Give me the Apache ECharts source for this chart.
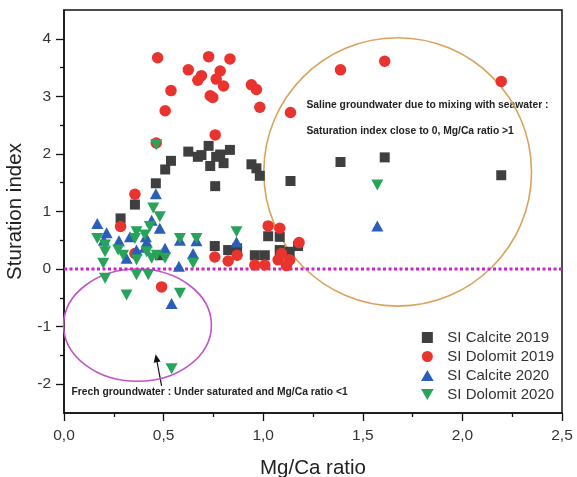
<!DOCTYPE html>
<html>
<head>
<meta charset="utf-8">
<script src="https://cdn.jsdelivr.net/npm/echarts@6/dist/echarts.min.js"></script>
<style>
html,body{margin:0;padding:0;background:#fff;}
#c{width:577px;height:477px;}
</style>
</head>
<body>
<div id="c"></div>
<script>
// ---- data (Mg/Ca ratio, saturation index) ----
const calcite2019 = [
  [0.461,1.49],[0.508,1.73],[0.537,1.88],[0.624,2.04],[0.672,1.95],[0.69,1.98],[0.726,2.14],
  [0.734,1.79],[0.764,1.95],[0.784,1.99],[0.801,1.84],[0.833,2.07],[0.759,1.44],[0.941,1.82],
  [0.966,1.75],[0.983,1.62],[1.137,1.53],[1.388,1.86],[1.61,1.94],[2.195,1.63],[0.356,1.12],
  [0.284,0.88],[0.481,0.24],[0.757,0.40],[0.824,0.33],[0.869,0.36],[0.958,0.24],[1.008,0.24],
  [1.025,0.57],[1.083,0.56],[1.083,0.33],[1.133,0.30],[1.175,0.40]
];
const dolomit2019 = [
  [0.47,3.67],[0.726,3.69],[0.833,3.65],[0.624,3.46],[0.784,3.44],[0.69,3.36],[0.672,3.28],
  [0.764,3.30],[0.801,3.18],[0.537,3.10],[0.734,3.01],[0.747,2.98],[0.941,3.20],[0.966,3.12],
  [0.983,2.81],[1.137,2.72],[0.508,2.75],[0.759,2.33],[0.463,2.19],[0.356,1.30],[0.284,0.74],
  [0.356,0.27],[0.49,-0.31],[1.388,3.46],[1.61,3.61],[2.195,3.26],[0.757,0.21],[0.824,0.14],
  [0.869,0.24],[0.958,0.07],[1.008,0.07],[1.025,0.75],[1.083,0.71],[1.075,0.16],[1.092,0.27],
  [1.133,0.16],[1.117,0.06],[1.18,0.46]
];
const calcite2020 = [
  [0.167,0.79],[0.214,0.63],[0.2,0.50],[0.276,0.49],[0.331,0.56],[0.364,0.33],[0.415,0.47],
  [0.44,0.85],[0.461,1.31],[0.481,0.71],[0.507,0.36],[0.582,0.50],[0.648,0.27],[0.665,0.49],
  [0.577,0.05],[0.406,0.38],[0.314,0.19],[0.54,-0.60],[0.866,0.47],[1.573,0.75],[0.411,0.56]
];
const dolomit2020 = [
  [0.167,0.53],[0.206,0.42],[0.206,0.30],[0.197,0.10],[0.272,0.33],[0.206,-0.16],[0.364,0.65],
  [0.356,0.53],[0.364,0.16],[0.364,-0.10],[0.423,-0.10],[0.431,0.74],[0.448,1.06],[0.481,0.91],
  [0.415,0.30],[0.44,0.19],[0.465,0.24],[0.507,0.19],[0.582,0.53],[0.665,0.53],[0.648,0.10],
  [0.406,0.59],[0.297,0.24],[0.314,-0.45],[0.582,-0.42],[0.54,-1.73],[0.463,2.16],[1.573,1.46],
  [0.866,0.65]
];
const zeroLine = [[0,0],[2.5,0]];
const seriesNames = ['SI Calcite 2019','SI Dolomit 2019','SI Calcite 2020','SI Dolomit 2020'];
const yMajorTicks = [-2,-1,0,1,2,3,4];
const yMinorTicks = [-1.5,-0.5,0.5,1.5,2.5,3.5];
const xTickLabels = ['0,0','0,5','1,0','1,5','2,0','2,5'];
const salineText = ['Saline groundwater due to mixing with seawater :','Saturation index close to 0, Mg/Ca ratio >1'];
const freshText = 'Frech groundwater : Under saturated and Mg/Ca ratio <1';

const FONT = '"Liberation Sans", Arial, Helvetica, sans-serif';
const sqIcon = 'path://M0,0H1V1H0Z';
const upIcon = 'path://M1,0L2,1.732L0,1.732Z';
const downIcon = 'path://M0,0L2,0L1,1.732Z';

const chart = echarts.init(document.getElementById('c'), null, {renderer:'canvas'});
chart.setOption({
  animation:false,
  backgroundColor:'#fff',
  grid:{left:64,right:15,top:10,bottom:64,outerBoundsMode:'none',containLabel:false,
    show:true,borderColor:'#111',borderWidth:1.5,backgroundColor:'transparent'},
  xAxis:{
    type:'value',min:0,max:2.5,interval:0.5,
    name:'Mg/Ca ratio',nameLocation:'middle',nameGap:45,
    nameTextStyle:{fontSize:20.5,color:'#222',fontFamily:FONT},
    axisLine:{show:true,onZero:false,lineStyle:{color:'#111',width:1.5}},
    axisTick:{show:true,inside:false,length:8,lineStyle:{color:'#111',width:1.3}},
    minorTick:{show:true,splitNumber:2,length:4,lineStyle:{color:'#111',width:1.3}},
    splitLine:{show:false},
    axisLabel:{margin:15,fontSize:15.5,color:'#333',fontFamily:FONT,
      formatter:function(v){return xTickLabels[Math.round(v/0.5)];}}
  },
  yAxis:[{
    type:'value',min:-2.5,max:4.5,position:'left',
    name:'Sturation index',nameLocation:'middle',nameGap:37,
    nameTextStyle:{fontSize:20.5,color:'#222',fontFamily:FONT},
    axisLine:{show:true,onZero:false,lineStyle:{color:'#111',width:1.5}},
    axisTick:{show:true,inside:false,length:8,customValues:yMajorTicks,lineStyle:{color:'#111',width:1.3}},
    splitLine:{show:false},
    axisLabel:{margin:13,fontSize:15.5,color:'#333',fontFamily:FONT,customValues:yMajorTicks,
      formatter:function(v){return String(v);}}
  },{
    type:'value',min:-2.5,max:4.5,position:'left',offset:0,
    axisLine:{show:false,onZero:false},
    axisTick:{show:true,inside:false,length:4,customValues:yMinorTicks,lineStyle:{color:'#111',width:1.3}},
    axisLabel:{show:false,customValues:yMinorTicks},
    splitLine:{show:false}
  }],
  legend:{
    orient:'vertical',left:416,top:325,itemWidth:30,itemHeight:11,itemGap:4,
    textStyle:{fontSize:15,color:'#333',fontFamily:FONT},
    data:[
      {name:seriesNames[0],icon:sqIcon},
      {name:seriesNames[1],icon:'circle'},
      {name:seriesNames[2],icon:upIcon},
      {name:seriesNames[3],icon:downIcon}
    ]
  },
  series:[
    {name:'zero',type:'line',data:zeroLine,showSymbol:false,symbol:'none',silent:true,z:1,
     lineStyle:{color:'#cc22cc',width:3,type:[3,2.5],cap:'butt'}},
    {name:seriesNames[0],type:'scatter',data:calcite2019,symbol:'rect',symbolSize:10,
     itemStyle:{color:'#3f3f3f',opacity:1}},
    {name:seriesNames[1],type:'scatter',data:dolomit2019,symbol:'circle',symbolSize:11.5,
     itemStyle:{color:'#e8332e',opacity:1}},
    {name:seriesNames[2],type:'scatter',data:calcite2020,symbol:upIcon,symbolSize:[12,11],
     itemStyle:{color:'#2b5eb8',opacity:1}},
    {name:seriesNames[3],type:'scatter',data:dolomit2020,symbol:downIcon,symbolSize:[12,11],
     itemStyle:{color:'#27a35a',opacity:1}}
  ]
});

// ---- annotations positioned through the chart's own coordinate system ----
function P(x,y){return chart.convertToPixel({gridIndex:0},[x,y]);}
function sx(d){return P(d,0)[0]-P(0,0)[0];}
function sy(d){return P(0,0)[1]-P(0,d)[1];}
const oc = P(1.675,1.687), mc = P(0.369,-0.974);
const tail = P(0.49,-2.03), tip = P(0.46,-1.48);
const dx = tip[0]-tail[0], dy = tip[1]-tail[1], L = Math.sqrt(dx*dx+dy*dy);
const ux = dx/L, uy = dy/L, hl = 8, hw = 3.5;
const hb = [tip[0]-ux*hl, tip[1]-uy*hl];
const t1 = P(1.217,2.84), t2 = P(1.217,2.39), t3 = P(0.038,-2.13);
chart.setOption({graphic:[
  {type:'ellipse',silent:true,z:1,shape:{cx:oc[0],cy:oc[1],rx:sx(0.672),ry:sy(2.33)},
   style:{fill:null,stroke:'#d9a35c',lineWidth:1.6}},
  {type:'ellipse',silent:true,z:1,shape:{cx:mc[0],cy:mc[1],rx:sx(0.371),ry:sy(0.974)},
   style:{fill:null,stroke:'#c255c8',lineWidth:1.6}},
  {type:'line',silent:true,shape:{x1:tail[0],y1:tail[1],x2:hb[0],y2:hb[1]},style:{stroke:'#111',lineWidth:1.2}},
  {type:'polygon',silent:true,shape:{points:[[tip[0],tip[1]],[hb[0]-uy*hw,hb[1]+ux*hw],[hb[0]+uy*hw,hb[1]-ux*hw]]},style:{fill:'#111'}},
  {type:'text',silent:true,style:{text:salineText[0],x:t1[0],y:t1[1],verticalAlign:'middle',fontSize:10.3,fontWeight:'bold',fontFamily:FONT,fill:'#222'}},
  {type:'text',silent:true,style:{text:salineText[1],x:t2[0],y:t2[1],verticalAlign:'middle',fontSize:10.3,fontWeight:'bold',fontFamily:FONT,fill:'#222'}},
  {type:'text',silent:true,style:{text:freshText,x:t3[0],y:t3[1],verticalAlign:'middle',fontSize:10.3,fontWeight:'bold',fontFamily:FONT,fill:'#222'}}
]});
</script>
</body>
</html>
